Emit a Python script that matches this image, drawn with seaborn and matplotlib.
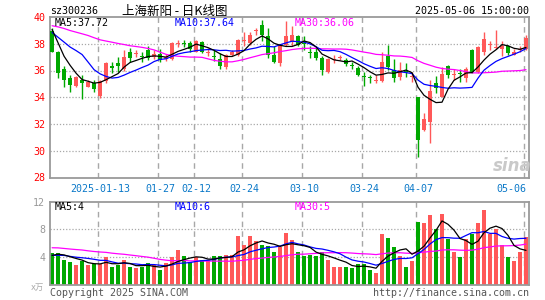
import matplotlib
matplotlib.use("Agg")
import matplotlib.pyplot as plt
import numpy as np
import pandas as pd
import seaborn as sns

sns.set_style("white")
plt.rcParams['font.family'] = ['DejaVu Sans Mono', 'Noto Sans CJK SC']

# ---------------- data ----------------
dates = ["2024-12-31",
         "2025-01-02", "2025-01-03", "2025-01-06", "2025-01-07", "2025-01-08", "2025-01-09", "2025-01-10",
         "2025-01-13", "2025-01-14", "2025-01-15", "2025-01-16", "2025-01-17", "2025-01-20", "2025-01-21",
         "2025-01-22", "2025-01-23", "2025-01-24", "2025-01-27",
         "2025-02-05", "2025-02-06", "2025-02-07", "2025-02-10", "2025-02-11", "2025-02-12", "2025-02-13",
         "2025-02-14", "2025-02-17", "2025-02-18", "2025-02-19", "2025-02-20", "2025-02-21", "2025-02-24",
         "2025-02-25", "2025-02-26", "2025-02-27", "2025-02-28",
         "2025-03-03", "2025-03-04", "2025-03-05", "2025-03-06", "2025-03-07", "2025-03-10", "2025-03-11",
         "2025-03-12", "2025-03-13", "2025-03-14", "2025-03-17", "2025-03-18", "2025-03-19", "2025-03-20",
         "2025-03-21", "2025-03-24", "2025-03-25", "2025-03-26", "2025-03-27", "2025-03-28", "2025-03-31",
         "2025-04-01", "2025-04-02", "2025-04-03", "2025-04-07", "2025-04-08", "2025-04-09", "2025-04-10",
         "2025-04-11", "2025-04-14", "2025-04-15", "2025-04-16", "2025-04-17", "2025-04-18", "2025-04-21",
         "2025-04-22", "2025-04-23", "2025-04-24", "2025-04-25", "2025-04-28", "2025-04-29", "2025-04-30",
         "2025-05-06"]

opens = [38.93, 37.42, 36.10, 35.42, 34.84, 35.30, 34.80, 35.10, 34.10, 35.20,
         36.30, 36.55, 36.10, 37.40, 37.25, 37.10, 37.50, 37.00, 37.25, 36.85,
         36.85, 37.95, 38.05, 38.05, 37.42, 38.10, 37.30, 37.10, 36.85, 36.25,
         37.17, 37.17, 38.25, 38.05, 38.95, 39.43, 38.55, 37.17, 36.55, 37.92,
         38.10, 38.55, 38.05, 37.40, 37.42, 36.92, 35.92, 36.80, 36.95, 36.80,
         36.40, 36.17, 35.60, 35.50, 35.20, 35.25, 37.05, 36.05, 35.55, 35.95,
         35.57, 34.00, 31.58, 32.16, 35.10, 34.04, 36.35, 35.72, 35.82, 35.42,
         37.50, 35.92, 37.35, 37.95, 37.72, 37.60, 37.80, 37.17, 37.55, 37.60]
highs = [39.18, 37.45, 36.30, 35.67, 35.62, 35.67, 35.30, 35.30, 35.30, 36.65,
         36.60, 37.00, 37.50, 37.70, 37.50, 37.40, 37.85, 37.50, 37.60, 37.20,
         38.10, 38.25, 38.25, 38.20, 38.30, 38.20, 37.70, 37.55, 37.30, 37.20,
         37.55, 38.35, 38.85, 38.85, 39.18, 39.80, 39.18, 37.80, 37.95, 39.68,
         39.30, 38.68, 38.60, 37.80, 37.67, 37.05, 36.92, 37.17, 37.17, 36.92,
         36.67, 36.30, 35.92, 35.67, 35.67, 37.42, 37.92, 36.85, 36.60, 36.55,
         35.90, 34.05, 32.79, 35.30, 35.60, 36.25, 36.42, 36.10, 36.10, 36.25,
         37.60, 37.85, 38.85, 38.17, 39.00, 38.17, 37.92, 37.60, 37.80, 38.68]
lows = [37.35, 35.42, 34.80, 34.42, 34.78, 33.90, 34.75, 34.40, 33.95, 35.10,
        35.80, 35.90, 36.00, 36.60, 37.00, 36.60, 36.75, 36.85, 36.60, 36.70,
        36.80, 37.75, 37.75, 37.40, 37.35, 37.30, 37.05, 36.70, 36.10, 36.10,
        37.05, 37.05, 37.80, 37.92, 38.68, 38.17, 36.92, 36.55, 36.30, 37.80,
        37.80, 37.80, 37.55, 36.92, 36.80, 35.67, 35.80, 36.55, 36.80, 36.30,
        36.10, 35.60, 34.85, 35.05, 35.10, 35.17, 36.05, 35.17, 35.30, 35.55,
        35.17, 29.50, 31.48, 30.58, 34.34, 33.99, 35.42, 35.30, 35.17, 35.17,
        35.85, 35.85, 37.17, 37.50, 37.60, 37.05, 37.17, 37.17, 37.42, 37.55]
closes = [37.42, 35.80, 35.30, 34.92, 35.54, 35.05, 35.17, 34.60, 35.20, 36.55,
          36.20, 36.30, 37.00, 36.95, 37.30, 37.00, 36.95, 37.25, 36.80, 37.00,
          38.05, 38.05, 38.00, 37.60, 38.17, 37.42, 37.35, 37.00, 36.30, 37.17,
          37.42, 38.25, 38.30, 38.68, 39.00, 38.68, 37.17, 36.67, 37.92, 38.55,
          38.68, 37.92, 37.95, 37.35, 36.92, 36.00, 36.85, 36.85, 37.00, 36.50,
          36.35, 35.67, 35.55, 35.45, 35.25, 36.60, 36.25, 35.42, 36.00, 35.90,
          35.60, 30.83, 32.40, 34.50, 34.67, 35.75, 35.67, 35.75, 35.78, 36.10,
          35.92, 37.75, 38.35, 37.98, 37.75, 37.85, 37.30, 37.42, 37.60, 38.45]
volumes = [4.67, 4.67, 3.66, 3.24, 2.81, 3.52, 2.81, 2.95, 3.05, 3.96,
           2.52, 2.81, 3.66, 2.52, 2.38, 2.52, 3.10, 2.81, 2.09, 3.10,
           3.96, 4.97, 4.10, 3.24, 3.96, 3.66, 3.66, 4.10, 4.10, 4.25,
           4.25, 6.99, 5.69, 6.99, 6.27, 5.69, 5.55, 4.80, 5.45, 7.46,
           6.40, 4.80, 4.10, 4.25, 4.10, 4.80, 3.66, 2.65, 2.65, 2.65,
           2.38, 2.95, 2.95, 2.09, 1.70, 7.27, 6.70, 5.40, 4.10, 2.52,
           3.39, 9.00, 8.87, 10.00, 8.00, 10.17, 6.56, 4.69, 3.96, 6.56,
           7.40, 8.87, 10.74, 7.27, 8.00, 5.69, 3.96, 3.52, 4.80, 6.90]

# closes / volumes of the 29 sessions before the window (only feed the moving averages)
prior_closes = [38.4, 38.9, 39.5, 39.2, 38.7, 39.0, 39.6, 39.9, 39.3, 38.8,
                39.1, 39.4, 39.7, 39.0, 38.9, 39.4, 40.5, 41.8, 42.0, 40.9,
                39.4, 38.9, 38.6, 38.2, 38.0, 40.8, 40.3, 38.3, 38.5]
prior_volumes = [5.2, 6.1, 5.8, 5.0, 5.5, 6.3, 5.9, 5.2, 5.6, 6.0,
                 5.4, 5.8, 5.7, 5.3, 5.8, 6.2, 7.5, 7.0, 6.4, 6.3,
                 4.5, 3.9, 4.6, 4.0, 4.3, 3.8, 4.2, 4.5, 4.1]

tick_dates = ["2025-01-13", "2025-01-27", "2025-02-12", "2025-02-24",
              "2025-03-10", "2025-03-24", "2025-04-07", "2025-05-06"]
tick_labels = ["2025-01-13", "01-27", "02-12", "02-24", "03-10", "03-24", "04-07", "05-06"]
price_ticks = [28, 30, 32, 34, 36, 38, 40]
vol_ticks = [4, 8, 12]

stock_code = "sz300236"
title = "上海新阳 - 日K线图"
timestamp = "2025-05-06 15:00:00"

# ---------------- styling ----------------
RED = "#ff5858"
GREEN = "#00a800"
MA_COLORS = {5: "black", 10: "#0000ff", 30: "#ff00ff"}
SPINE = "#9a9a9a"
GRID = "#a8a8a8"
W, H = 545, 300

df = pd.DataFrame({"date": dates, "open": opens, "high": highs, "low": lows,
                   "close": closes, "volume": volumes})
df["x"] = np.arange(len(df))
df["up"] = df["close"] >= df["open"]
df["color"] = np.where(df["up"], RED, GREEN)

all_c = pd.Series(prior_closes + closes)
all_v = pd.Series(prior_volumes + volumes)
np_ = len(prior_closes)
for k in (5, 10, 30):
    df[f"ma{k}"] = all_c.rolling(k).mean().iloc[np_:].to_numpy()
    df[f"vma{k}"] = all_v.rolling(k).mean().iloc[np_:].to_numpy()

fig = plt.figure(figsize=(W / 100, H / 100), dpi=100)
fig.patch.set_facecolor("white")


def rect(l, t, r, b):
    return [l / W, 1 - b / H, (r - l) / W, (b - t) / H]


ax = fig.add_axes(rect(50, 17, 529, 177.5))
axv = fig.add_axes(rect(50, 201.5, 529, 285))

xlim = (-0.35, len(df) - 0.5)
tick_pos = [dates.index(d) for d in tick_dates]

for a in (ax, axv):
    a.set_xlim(*xlim)
    for s in a.spines.values():
        s.set_color(SPINE)
        s.set_linewidth(1.3)
    for p in tick_pos:
        a.axvline(p - 0.28, color=GRID, lw=1.0, ls=(0, (4, 3)), zorder=0)

# price panel
ax.set_ylim(28, 40)
for yv in price_ticks[1:-1]:
    ax.axhline(yv, color=GRID, lw=0.9, ls=(0, (1, 1.5)), zorder=0)

ax.vlines(df["x"], df["low"], df["high"], colors=df["color"], lw=1.0, zorder=2)
diff = (df["close"] - df["open"]).abs()
body_h = np.maximum(diff, 0.07)
body_b = np.where(diff < 0.07, (df["open"] + df["close"]) / 2 - 0.035,
                  np.minimum(df["open"], df["close"]))
ax.bar(df["x"], body_h, bottom=body_b, width=0.8, color=df["color"], linewidth=0, zorder=3)

for k in (30, 10, 5):
    sns.lineplot(x=df["x"], y=df[f"ma{k}"], ax=ax, color=MA_COLORS[k], lw=0.9, zorder=4, legend=False)

ax.set_yticks(price_ticks)
ax.set_yticklabels([str(t) for t in price_ticks], color="red", fontsize=7.2)
ax.set_xticks(tick_pos)
ax.set_xticklabels(tick_labels, color="#0a78c8", fontsize=7.2)
ax.get_xticklabels()[-1].set_horizontalalignment("right")
ax.tick_params(axis="both", length=0)
ax.tick_params(axis="y", pad=3.5)
ax.tick_params(axis="x", pad=4.5)
ax.set_xlabel("")
ax.set_ylabel("")

# volume panel
for yv in vol_ticks[:-1]:
    axv.axhline(yv, color=GRID, lw=0.9, ls=(0, (1, 1.5)), zorder=0)
sns.barplot(data=df, x="x", y="volume", hue="color", palette={RED: RED, GREEN: GREEN},
            ax=axv, native_scale=True, dodge=False, width=0.8, legend=False,
            linewidth=0, saturation=1, zorder=2)
for k in (30, 10, 5):
    sns.lineplot(x=df["x"], y=df[f"vma{k}"], ax=axv, color=MA_COLORS[k], lw=0.9, zorder=4, legend=False)
axv.set_xlim(*xlim)
axv.set_ylim(0, 12)
axv.set_yticks(vol_ticks)
axv.set_yticklabels([str(t) for t in vol_ticks], color="#999999", fontsize=7.2)
axv.set_xticks([])
axv.tick_params(axis="both", length=0)
axv.tick_params(axis="y", pad=3.5)
axv.set_xlabel("")
axv.set_ylabel("")


def ftext(x, y, s, **kw):
    kw.setdefault("fontsize", 7.2)
    kw.setdefault("va", "center")
    fig.text(x / W, 1 - y / H, s, **kw)


ftext(50, 11, stock_code, color="black")
ftext(122, 11, title, color="black", fontsize=9, family=["Noto Sans CJK SC", "DejaVu Sans"])
ftext(529, 11, timestamp, color="black", ha="right")

last = df.iloc[-1]
ftext(55, 23.5, f"MA5:{last['ma5']:.2f}", color=MA_COLORS[5])
ftext(175, 23.5, f"MA10:{last['ma10']:.2f}", color=MA_COLORS[10])
ftext(295, 23.5, f"MA30:{last['ma30']:.2f}", color=MA_COLORS[30])

ftext(55, 206.5, f"MA5:{int(last['vma5'])}", color=MA_COLORS[5])
ftext(175, 206.5, f"MA10:{int(last['vma10'])}", color=MA_COLORS[10])
ftext(295, 206.5, f"MA30:{int(last['vma30'])}", color=MA_COLORS[30])

ftext(44, 287.5, "x万", color="#aaaaaa", fontsize=6, ha="right",
      family=["DejaVu Sans", "Noto Sans CJK SC"])
ftext(50, 292.5, "Copyright 2025 SINA.COM", color="#555555")
ftext(529, 292.5, "http://finance.sina.com.cn", color="#555555", ha="right")
ftext(512, 166, "sina", color="#c9c9c9", fontsize=12, ha="center", style="italic",
      weight="bold", family=["DejaVu Sans"])

fig.savefig("out.png", dpi=100, facecolor="white")
